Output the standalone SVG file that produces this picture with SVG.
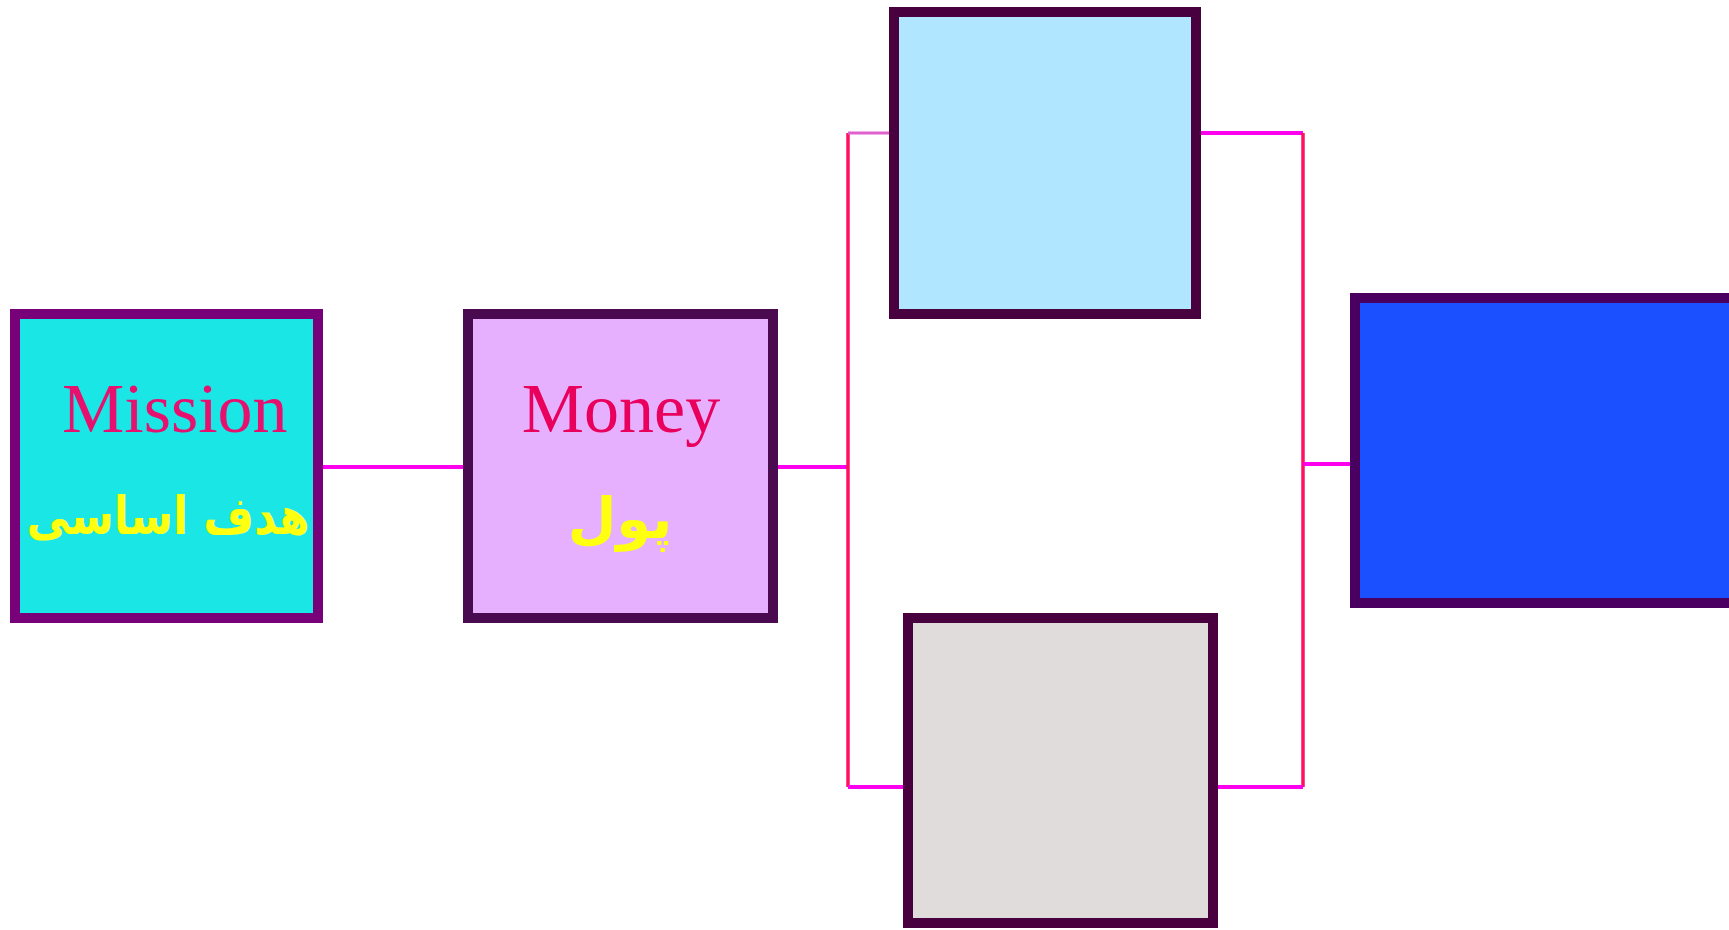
<svg xmlns="http://www.w3.org/2000/svg" width="1729" height="930" viewBox="0 0 1729 930">
<style>
.box{stroke-width:10}
.conn{stroke:#ff00ee;stroke-width:4;fill:none}
.vert{stroke:#ff1060;stroke-width:3.5;fill:none}
.en{font-family:"Liberation Serif",serif;font-size:70px}
.fa{font-family:"DejaVu Sans",sans-serif;font-weight:bold;fill:#ffff10;direction:rtl}
</style>
<rect width="1729" height="930" fill="#ffffff"/>
<g id="connectors">
<line class="conn" x1="318" y1="467" x2="466" y2="467"/>
<line class="conn" x1="773" y1="467" x2="848" y2="467"/>
<line class="vert" x1="848" y1="133" x2="848" y2="787"/>
<line x1="848" y1="133" x2="892" y2="133" stroke="#e060d0" stroke-width="3"/>
<line class="conn" x1="848" y1="787" x2="906" y2="787"/>
<line class="conn" x1="1198" y1="133" x2="1303" y2="133" stroke-width="5"/>
<line class="vert" x1="1303" y1="133" x2="1303" y2="787"/>
<line class="conn" x1="1215" y1="787" x2="1303" y2="787"/>
<line class="conn" x1="1303" y1="464" x2="1353" y2="464"/>
</g>
<g id="mission">
<rect class="box" x="15" y="314" width="303" height="304" fill="#1ae6e6" stroke="#780078"/>
<text class="en" x="62" y="432" fill="#e8106e">Mission</text>
<text class="fa" transform="translate(168,534) scale(0.84,1)" x="0" y="0" font-size="52" text-anchor="middle">هدف اساسی</text>
</g>
<g id="money">
<rect class="box" x="468" y="314" width="305" height="304" fill="#e6b0ff" stroke="#4a0a50"/>
<text class="en" x="621" y="432" fill="#e8005c" text-anchor="middle">Money</text>
<text class="fa" x="620" y="538" font-size="56" text-anchor="middle">پول</text>
</g>
<g id="top-box">
<rect class="box" x="894" y="12" width="302" height="302" fill="#b0e6ff" stroke="#48003f"/>
</g>
<g id="bottom-box">
<rect class="box" x="908" y="618" width="305" height="305" fill="#dfdcdb" stroke="#48003f"/>
</g>
<g id="blue-box">
<rect class="box" x="1355" y="298" width="380" height="305" fill="#1a50ff" stroke="#4a0060"/>
</g>
</svg>
